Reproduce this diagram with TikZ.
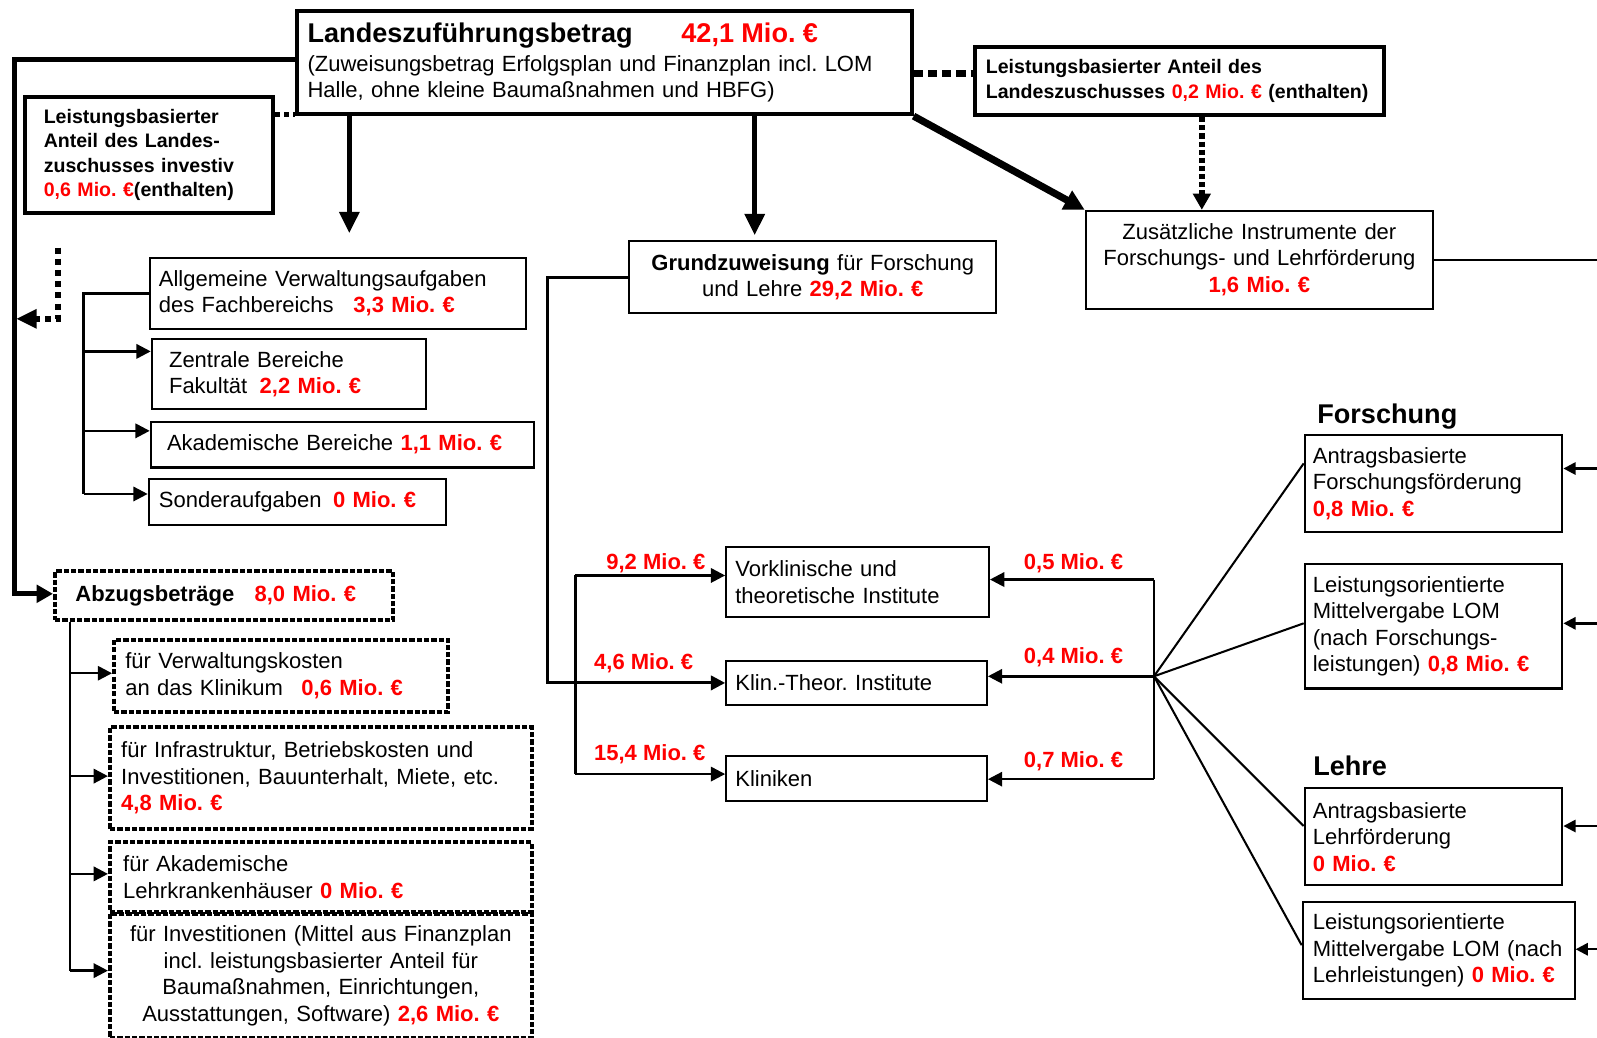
\documentclass[tikz,border=0pt]{standalone}
\usepackage{fontspec}
\setmainfont{Liberation Sans}
\usetikzlibrary{arrows.meta}
\frenchspacing
\newlength\U \setlength\U{0.5pt}
\definecolor{myred}{RGB}{255,0,0}
\newcommand\redb[1]{\textcolor{myred}{\bfseries #1}}
\newcommand\smallbf{\fontsize{9.6}{12}\selectfont\bfseries}
\begin{document}
\begin{tikzpicture}[x=0.5pt,y=-0.5pt,
  every node/.style={font=\fontsize{10.8}{13}\selectfont, inner sep=0pt},
  sz/.style n args={3}{minimum width=#1*0.5pt, minimum height=#2*0.5pt, inner xsep=#3*0.5pt,
     /utils/exec={\pgfmathsetlengthmacro\mytw{(#1-2*#3)*0.5pt}}, text width=\mytw},
  bx/.style={draw, line width=1pt, anchor=north west, align=left},
  hv/.style={line width=2pt},
  dbx/.style={draw, line width=2pt, dash pattern=on 2.6pt off 1pt, anchor=north west, align=left},
  ln/.style={line width=1.2pt},
  tip/.style={-{Triangle[length=7pt,width=7pt]}},
  lab/.style={anchor=base east, font=\fontsize{10.8}{13}\selectfont\bfseries\color{myred}},
  head/.style={anchor=base west, font=\fontsize{13.3}{15}\selectfont\bfseries}
]
\useasboundingbox (0,0) rectangle (1568,1019);

% ---------- boxes ----------
\node[bx, hv, sz={603}{101}{10}] (main) at (290,9)
 {{\fontsize{13.3}{15}\selectfont\bfseries\makebox[367\U][l]{Landeszuführungsbetrag}\textcolor{myred}{42,1 Mio. €}}\\[1pt]
  (Zuweisungsbetrag Erfolgsplan und Finanzplan incl. LOM\\
  Halle, ohne kleine Baumaßnahmen und HBFG)};

\node[bx, hv, sz={243}{114}{18}, font=\smallbf] (inv) at (23,93)
 {Leistungsbasierter\\Anteil des Landes-\\zuschusses investiv\\\redb{0,6 Mio. €}(enthalten)};

\node[bx, hv, sz={402}{67}{11}, font=\smallbf] (rbox) at (955,44)
 {\mbox{Leistungsbasierter Anteil des}\\\mbox{Landeszuschusses \redb{0,2 Mio. €} (enthalten)}};

\node[bx, sz={369}{70}{9}] (allg) at (146,252)
 {Allgemeine Verwaltungsaufgaben\\\makebox[191\U][l]{des Fachbereichs}\redb{3,3 Mio. €}};
\node[bx, sz={269}{69}{17}] (zent) at (148,332)
 {Zentrale Bereiche\\\makebox[89\U][l]{Fakultät}\redb{2,2 Mio. €}};
\node[bx, sz={376}{45}{16}] (akad) at (147,413)
 {\mbox{Akademische Bereiche \redb{1,1 Mio. €}}};
\node[bx, sz={292}{45}{10}] (sond) at (145,469)
 {\makebox[171\U][l]{Sonderaufgaben}\redb{0 Mio. €}};

\node[dbx, sz={332}{48}{20}] (abz) at (52,559)
 {\makebox[176\U][l]{\bfseries Abzugsbeträge}\redb{8,0 Mio. €}};
\node[dbx, sz={328}{71}{11}] (s1) at (110,626)
 {für Verwaltungskosten\\\makebox[173\U][l]{an das Klinikum}\redb{0,6 Mio. €}};
\node[dbx, sz={414}{100}{11}] (s2) at (106,712)
 {für Infrastruktur, Betriebskosten und\\Investitionen, Bauunterhalt, Miete, etc.\\\redb{4,8 Mio. €}};
\node[dbx, sz={414}{68}{13}] (s3) at (106,825)
 {für Akademische\\Lehrkrankenhäuser \redb{0 Mio. €}};
\node[dbx, sz={414}{122}{10}, align=center] (s4) at (106,895)
 {für Investitionen (Mittel aus Finanzplan\\incl. leistungsbasierter Anteil für\\Baumaßnahmen, Einrichtungen,\\Ausstattungen, Software) \redb{2,6 Mio. €}};

\node[bx, sz={360}{70}{8}, align=center] (grund) at (617,236)
 {\textbf{Grundzuweisung} für Forschung\\und Lehre \redb{29,2 Mio. €}};
\node[bx, sz={341}{96}{8}, align=center] (zus) at (1065,206)
 {Zusätzliche Instrumente der\\Forschungs- und Lehrförderung\\\redb{1,6 Mio. €}};

\node[bx, sz={258}{69}{9}] (vork) at (712,536) {Vorklinische und\\theoretische Institute};
\node[bx, sz={256}{43}{9}] (klin) at (712,648) {Klin.-Theor. Institute};
\node[bx, sz={256}{44}{9}] (klinik) at (712,741) {Kliniken};

\node[head] (hf) at (1293,416) {Forschung};
\node[head] (hl) at (1289,761) {Lehre};

\node[bx, sz={253}{95}{8}] (fa) at (1280,426)
 {Antragsbasierte\\Forschungsförderung\\\redb{0,8 Mio. €}};
\node[bx, sz={253}{122}{8}] (fb) at (1280,553)
 {Leistungsorientierte\\Mittelvergabe LOM\\(nach Forschungs-\\\mbox{leistungen) \redb{0,8 Mio. €}}};
\node[bx, sz={253}{95}{8}] (la) at (1280,773)
 {Antragsbasierte\\Lehrförderung\\\redb{0 Mio. €}};
\node[bx, sz={267}{95}{10}] (lb) at (1278,885)
 {Leistungsorientierte\\\mbox{Mittelvergabe LOM (nach}\\\mbox{Lehrleistungen) \redb{0 Mio. €}}};

% ---------- labels ----------
\node[lab] (l92) at (693,559) {9,2 Mio. €};
\node[lab] (l46) at (681,657) {4,6 Mio. €};
\node[lab] (l154) at (693,747) {15,4 Mio. €};
\node[lab] (l05) at (1103,559) {0,5 Mio. €};
\node[lab] (l04) at (1103,651) {0,4 Mio. €};
\node[lab] (l07) at (1103,754) {0,7 Mio. €};

% ---------- coordinates ----------
\coordinate (tl) at (14,58);
\coordinate (bl) at (14,583);
\coordinate (d1) at (0,112);
\coordinate (d2) at (0,72);
\coordinate (d3) at (1180,0);
\coordinate (a1) at (343,229);
\coordinate (a2) at (741,231);
\coordinate (re) at (1575,0);
\coordinate (e1) at (57,243);
\coordinate (e2) at (57,313);
\coordinate (e3) at (16,313);
\coordinate (b1) at (82,345);
\coordinate (b2) at (82,423);
\coordinate (b3) at (82,485);
\coordinate (k1) at (69,661);
\coordinate (k2) at (69,762);
\coordinate (k3) at (69,858);
\coordinate (k4) at (69,953);
\coordinate (m1) at (565,565);
\coordinate (m2) at (565,760);
\coordinate (gx) at (538,0);
\coordinate (r1) at (1133,569);
\coordinate (r2) at (1133,664);
\coordinate (r3) at (1133,765);
\coordinate (f1) at (0,455);
\coordinate (f2) at (0,612);
\coordinate (f3) at (0,811);
\coordinate (f4) at (0,928);
\coordinate (q1) at (1575,460);
\coordinate (q2) at (1575,612);
\coordinate (q3) at (1575,811);
\coordinate (q4) at (1575,932);

% ---------- connectors ----------
\draw[line width=2.5pt, -{Triangle[length=8pt,width=8.5pt]}] (main.west |- tl) -- (tl) -- (bl) -- (abz.west |- bl);
\draw[line width=2.5pt, dash pattern=on 2.5pt off 2pt] (inv.east |- d1) -- (main.west |- d1);
\draw[line width=3.5pt, dash pattern=on 4.5pt off 2.5pt] (main.east |- d2) -- (rbox.west |- d2);
\draw[line width=2.5pt, -{Triangle[length=10.5pt,width=9.5pt]}] (main.south -| a1) -- (a1);
\draw[line width=2.5pt, -{Triangle[length=10.5pt,width=9.5pt]}] (main.south -| a2) -- (a2);
\draw[line width=3.5pt, -{Triangle[length=10pt,width=10pt]}] (main.south east) -- (zus.north west);
\draw[line width=3pt, dash pattern=on 2.5pt off 1.5pt, -{Triangle[length=8pt,width=8.5pt]}] (rbox.south -| d3) -- (zus.north -| d3);
\draw[ln] (zus.east) -- (zus.east -| re);

\draw[line width=3pt, dash pattern=on 3pt off 2.5pt, -{Triangle[length=10pt,width=9pt]}] (e1) -- (e2) -- (e3);

\draw[ln] (allg.west) -| (b3);
\draw[ln, tip] (b1) -- (b1 -| zent.west);
\draw[ln, tip] (b2) -- (b2 -| akad.west);
\draw[ln, tip] (b3) -- (b3 -| sond.west);

\draw[ln] (abz.south -| k1) -- (k4);
\draw[ln, tip] (k1) -- (k1 -| s1.west);
\draw[ln, tip] (k2) -- (k2 -| s2.west);
\draw[ln, tip] (k3) -- (k3 -| s3.west);
\draw[ln, tip] (k4) -- (k4 -| s4.west);

\draw[line width=1.5pt, tip] (grund.west) -- (grund.west -| gx) |- (klin.west);
\draw[ln] (m1) -- (m2);
\draw[ln, tip] (m1) -- (m1 -| vork.west);
\draw[ln, tip] (m2) -- (m2 -| klinik.west);

\draw[ln] (r1) -- (r3);
\draw[ln, tip] (r1) -- (r1 -| vork.east);
\draw[ln, tip] (r2) -- (r2 -| klin.east);
\draw[ln, tip] (r3) -- (r3 -| klinik.east);

\draw[line width=1pt] (r2) -- (fa.west |- f1);
\draw[line width=1pt] (r2) -- (fb.west |- f2);
\draw[line width=1pt] (r2) -- (la.west |- f3);
\draw[line width=1pt] (r2) -- (lb.west |- f4);

\draw[ln, -{Triangle[length=6pt,width=6pt]}] (q1) -- (q1 -| fa.east);
\draw[ln, -{Triangle[length=6pt,width=6pt]}] (q2) -- (q2 -| fb.east);
\draw[ln, -{Triangle[length=6pt,width=6pt]}] (q3) -- (q3 -| la.east);
\draw[ln, -{Triangle[length=6pt,width=6pt]}] (q4) -- (q4 -| lb.east);
\end{tikzpicture}
\end{document}
